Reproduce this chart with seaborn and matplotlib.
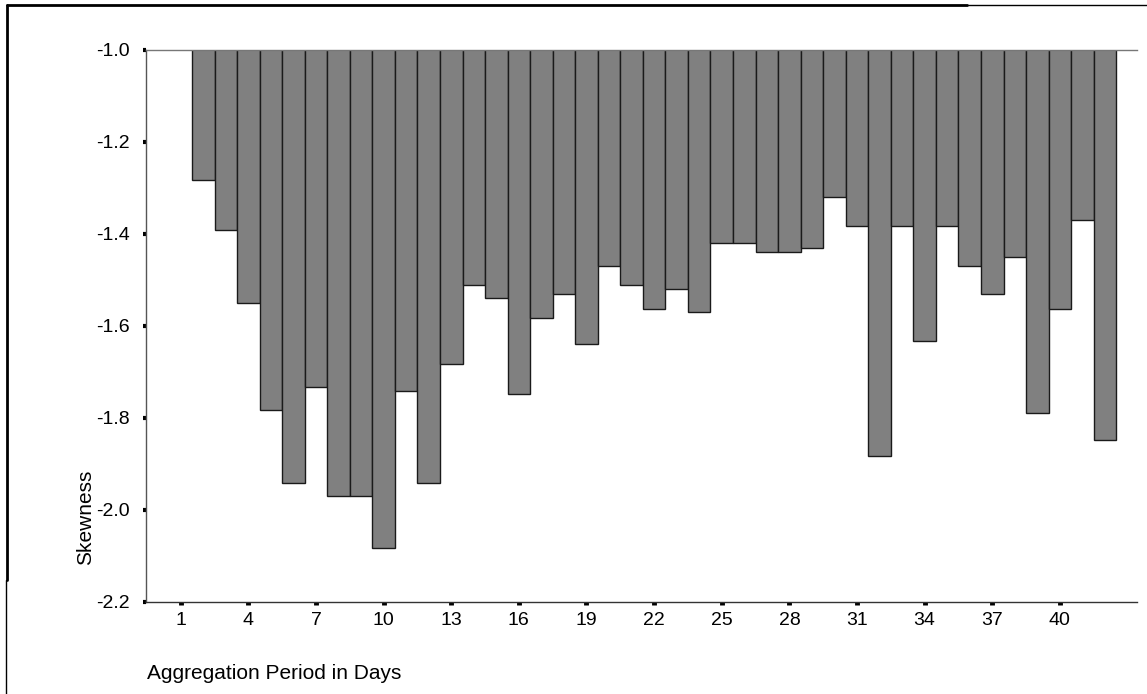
import matplotlib
matplotlib.use("Agg")
import matplotlib.pyplot as plt
import seaborn as sns
from matplotlib.lines import Line2D

# aggregation period (days) and skewness
days = list(range(2, 43))
skewness = [-1.283, -1.391, -1.549, -1.783, -1.941, -1.732, -1.969, -1.969, -2.082, -1.741,
            -1.941, -1.683, -1.511, -1.540, -1.748, -1.582, -1.531, -1.640, -1.469, -1.511,
            -1.562, -1.520, -1.569, -1.420, -1.420, -1.440, -1.440, -1.431, -1.320, -1.382,
            -1.883, -1.382, -1.632, -1.382, -1.469, -1.531, -1.449, -1.790, -1.562, -1.370,
            -1.848]
x_tick_labels = [1, 4, 7, 10, 13, 16, 19, 22, 25, 28, 31, 34, 37, 40]
y_ticks = [-1.0, -1.2, -1.4, -1.6, -1.8, -2.0, -2.2]

sns.set_style("white")
plt.rcParams["font.family"] = ["Liberation Sans", "DejaVu Sans"]

W, H = 1147, 694
fig = plt.figure(figsize=(W / 100, H / 100), dpi=100)
ax = fig.add_axes([146 / W, (H - 602) / H, (1137 - 146) / W, (602 - 50) / H])

sns.barplot(x=days, y=skewness, order=days, color="#808080", saturation=1,
            width=1.0, edgecolor="#1a1a1a", linewidth=1.0, ax=ax)

ax.set_ylim(-2.2, -1.0)
ax.set_xlim(-2.54, 41.42)
ax.set_yticks(y_ticks)
ax.set_yticklabels([f"{v:.1f}" for v in y_ticks], fontsize=14)
ax.set_xticks([v - days[0] for v in x_tick_labels])
ax.set_xticklabels([str(v) for v in x_tick_labels], fontsize=14)
ax.tick_params(axis="y", left=True, direction="out", length=2.5, width=3,
               color="black", labelcolor="black", pad=9)
ax.tick_params(axis="x", bottom=True, direction="out", length=2.5, width=3.5,
               color="black", labelcolor="black", pad=5)
ax.set_xlabel("")
ax.set_ylabel("")

ax.spines["right"].set_visible(False)
ax.spines["left"].set_color("#555555")
ax.spines["top"].set_color("#777777")
ax.spines["bottom"].set_color("#333333")
for s in ["left", "top", "bottom"]:
    ax.spines[s].set_linewidth(1.0)

fig.text(86 / W, 1 - 517 / H, "Skewness", rotation=90, fontsize=15, color="black",
         ha="center", va="center")
fig.text(147 / W, 1 - 664 / H, "Aggregation Period in Days", fontsize=15, color="black",
         family=["Liberation Sans Narrow", "Liberation Sans"], ha="left", va="top")

# outer frame (left and top edges only)
fig.add_artist(Line2D([7 / W, 7 / W], [1 - 5 / H, 1 - 580 / H], color="black", lw=2))
fig.add_artist(Line2D([6 / W, 6 / W], [1 - 580 / H, 0], color="black", lw=1))
fig.add_artist(Line2D([7 / W, 967 / W], [1 - 5 / H, 1 - 5 / H], color="black", lw=2))
fig.add_artist(Line2D([967 / W, 1], [1 - 5 / H, 1 - 5 / H], color="black", lw=1))

fig.savefig("out.png", dpi=100)
